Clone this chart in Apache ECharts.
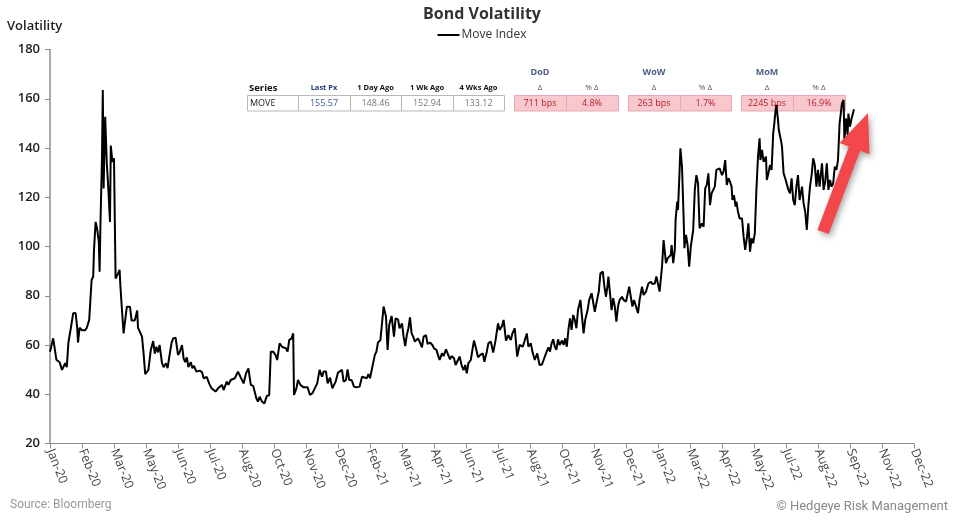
<!DOCTYPE html>
<html>
<head>
<meta charset="utf-8">
<title>Bond Volatility</title>
<script src="https://cdn.jsdelivr.net/npm/echarts@6/dist/echarts.min.js"></script>
<style>
  html, body { margin: 0; padding: 0; background: #fff; }
  #chart { width: 964px; height: 526px; }
</style>
</head>
<body>
<div id="chart"></div>
<script>
// x values are days after 2 Jan 2020 (axis ticks every 40 days from there)
var startDate = new Date(2020, 0, 2);
var monthNames = ["Jan","Feb","Mar","Apr","May","Jun","Jul","Aug","Sep","Oct","Nov","Dec"];

var moveDays = [
  0,4,6,8,12,15,19,21,23,26,29,32,34,35,37,40,42,44,46,49,52,54,55,57,59,61,62,63,65,66,67,69,71,73,75,76,78,80,81,82,
  85,87,88,90,92,94,96,100,102,106,109,110,115,117,119,123,126,129,131,133,135,137,140,142,145,147,149,152,154,157,
  160,162,165,167,169,171,173,176,178,180,183,187,190,192,196,199,202,204,207,210,
  212,215,217,219,221,223,226,228,231,235,238,242,245,248,251,254,258,260,262,265,268,271,274,276,279,282,284,287,290,292,
  295,297,299,302,304,305,308,310,313,317,319,322,325,328,331,334,337,340,342,345,347,350,353,357,360,365,367,370,372,374,
  377,380,383,387,390,392,396,398,400,402,406,408,410,413,
  417,420,422,424,427,430,432,435,437,440,442,444,446,448,450,452,454,456,458,460,462,465,467,470,472,475,478,480,483,485,
  487,490,492,495,497,500,502,505,507,510,512,515,517,519,521,523,526,528,530,533,535,538,541,543,546,548,551,554,557,560,
  562,565,567,570,573,576,578,581,584,587,591,593,596,598,601,603,606,609,612,615,617,620,623,625,
  627,629,631,633,635,637,640,642,644,646,648,650,652,654,656,658,660,663,665,667,669,672,674,677,679,681,683,686,688,691,
  693,695,697,698,700,702,704,706,708,710,712,715,717,720,722,724,726,728,730,732,735,737,740,742,745,748,751,753,756,758,
  760,762,765,767,770,772,774,776,777,779,781,782,784,785,787,788,790,792,793,795,797,799,801,804,806,808,810,812,815,817,
  819,821,823,825,
  827,829,831,833,835,837,840,842,844,846,848,850,852,853,855,857,858,860,862,863,865,867,869,871,873,875,877,879,881,883,
  885,887,888,890,892,895,896,898,900,902,904,905,907,908,910,911,912,914,915,917,919,921,923,925,927,929,931,933,935,937,
  940,942,944,946,948,950,952,954,956,958,960,962,965,967,969,971,973,975,977,979,981,983,985,987,990,992,993,995,997,998,
  1000,1002,1003,1005
];

var moveValues = [
  57.3,62.7,62,54,53,49.9,52.6,51,61,66.8,72.9,73,67,61,67,66,65.8,66,67,70.2,86.4,87.8,98.6,110,107,102,89.8,108,136.5,163.5,
  123.6,152.7,133.8,123,110,141,134.4,135.8,110.8,87,
  89,90.5,84,74,64.7,65.4,75.5,75.5,70,70,74,67,63.4,56.5,48.2,49.9,58,61.6,56.5,59.3,57,60,52.6,51,52.6,50.6,55,61,62.7,63,
  56,57,60,54.6,53,55,51,53,50.6,51.5,49.2,49.6,49,46.5,47,44.3,42.4,41.8,41.1,42.4,
  42.4,43.8,41.7,41.7,45.1,43.8,45.8,45.1,46.5,49.2,47.1,44.4,48.5,50.5,43.8,43.4,38.3,37,39,37,36.3,39.3,39.7,57.3,57.3,55.9,53.9,60.7,59.3,58.6,
  58.6,57.3,62,62.7,64.7,39.7,42.4,45.8,43.8,42.8,43.2,42.8,39.7,40.4,42.4,44.4,49.9,47.1,49.2,49.2,44.4,46.7,42.4,45.1,48.8,49.9,45.1,45.8,50.1,45.8,
  45.8,43.1,42.8,43.1,47.1,46.5,46.5,48.2,46.5,46,55.9,57.3,61,62,
  75.6,71.5,58,68.1,71.8,63.4,70.8,70.4,66.8,68.8,63.4,59.6,64,66.8,71.2,64.7,63.4,61.4,60.7,62.7,61.4,59,63.4,64,60.4,61,60,58.6,58,58.2,
  53.9,56.6,55.5,58.2,58,54.2,55.5,54.6,51.9,53.9,55.3,51.2,49.8,51.9,48.5,52.6,53.9,58,61.8,58,55,56,56.6,53.2,57.3,60.7,61.4,56.9,62,68.8,
  66.1,67.7,70.2,61.8,64,62,64.7,66.8,55.3,60,59.3,61.4,64.7,59.3,60.7,57.3,53.9,56.6,51.9,52.1,53.9,56.6,59,57.3,
  60.7,62.3,59.3,58,62.3,60,61.8,60,62.7,59.3,66.1,70.8,66.1,72.2,70.2,66.8,74.2,78.3,71.5,64.7,70.2,74.2,78.3,81,81.7,73.5,76.9,81.7,89.1,89.8,
  83.7,79.6,84.4,87.8,81,74.2,79,75.6,69.5,75.6,78.3,79.6,78.3,77.6,78.3,83.7,79.6,75.6,78.3,76.2,72.9,78.3,83.7,80.3,81.7,85,85.7,84.8,85,87.8,
  87.1,81.7,91.8,102.6,93.2,95.2,95.2,96.6,100.6,93.2,98.6,110.8,118.2,114.8,131.1,139.9,132.4,112.1,99.3,104.7,100.6,91.8,100,106.7,123,129,125.7,107.4,109.4,108,
  123.6,125,129.7,116.8,
  121.6,123,124.3,131.1,130.4,131.7,129,130.4,135.1,125,127.7,126.3,124.3,118.9,120.9,116.2,118.2,114.1,111.4,110.8,111.4,104,98.6,103.3,109.4,97.9,103.3,101.3,105.3,123,
  136.5,143.9,135.1,139.2,134.4,136.5,127,129.7,133.1,131.1,146,148.7,155.4,157.5,151.4,147.3,147.3,142.6,140.5,129.7,127.7,128,123,121.6,127.7,118.9,116.8,124.3,129,118.9,
  124.3,117.5,114.1,106.7,116.8,124.3,129,135.8,133.1,124.3,131.1,124.3,133.8,123,126.3,133.8,123,127,124.3,125.7,132.4,131.1,135.1,150,158.1,159.5,143.2,152,145.3,154,
  148.7,152,152.7,155.7
];

// summary table that sits over the chart
var groupHeaders = ["DoD", "WoW", "MoM"];
var tableHeaders = ["Series", "Last Px", "1 Day Ago", "1 Wk Ago", "4 Wks Ago", "Δ", "% Δ", "Δ", "% Δ", "Δ", "% Δ"];
var tableRow = ["MOVE", "155.57", "148.46", "152.94", "133.12", "711 bps", "4.8%", "263 bps", "1.7%", "2245 bps", "16.9%"];

function dayLabel(v) {
  var d = new Date(startDate.getTime() + v * 86400000);
  return monthNames[d.getMonth()] + "-" + String(d.getFullYear()).slice(2);
}

function buildTable() {
  var g = [];
  var cellLeft = [247, 298, 350, 401, 453, 514, 566, 628, 680, 741, 793];
  var cellW = [51, 52, 51, 52, 51, 52, 52, 52, 51, 52, 52];
  var rowTop = 95, rowH = 15.5;
  var font = "Open Sans, sans-serif";
  for (var i = 0; i < tableHeaders.length; i++) {
    var cx = cellLeft[i] + cellW[i] / 2;
    var pink = i >= 5;
    g.push({
      type: "rect", silent: true,
      shape: { x: cellLeft[i] + 0.5, y: rowTop + 0.5, width: cellW[i], height: rowH },
      style: { fill: pink ? "#f9c8ce" : "#fff", stroke: pink ? "#e9a9b1" : "#b8b8b8", lineWidth: 1 }
    });
    g.push({
      type: "text", silent: true,
      style: {
        text: tableHeaders[i],
        x: i === 0 ? 249 : cx, y: 88,
        align: i === 0 ? "left" : "center", verticalAlign: "middle",
        font: (i === 0 ? "bold 9.5px " : (i >= 5 ? "8px " : "bold 7.5px ")) + font,
        fill: i === 1 ? "#1f3a78" : (i >= 5 ? "#555" : "#111")
      }
    });
    g.push({
      type: "text", silent: true,
      style: {
        text: tableRow[i],
        x: i === 0 ? 250 : cx, y: rowTop + rowH / 2 + 1,
        align: i === 0 ? "left" : "center", verticalAlign: "middle",
        font: "9px " + font,
        fill: pink ? "#b3202e" : (i === 1 ? "#3b5b9a" : (i === 0 ? "#222" : "#777"))
      }
    });
  }
  for (var k = 0; k < groupHeaders.length; k++) {
    var col = 5 + k * 2;
    g.push({
      type: "text", silent: true,
      style: {
        text: groupHeaders[k],
        x: cellLeft[col] + cellW[col] / 2, y: 72,
        align: "center", verticalAlign: "middle",
        font: "bold 9px " + font, fill: "#4d5f86"
      }
    });
  }
  return g;
}

function buildArrow(tail, tip) {
  var dx = tip[0] - tail[0], dy = tip[1] - tail[1];
  var len = Math.sqrt(dx * dx + dy * dy);
  var ux = dx / len, uy = dy / len, px = -uy, py = ux;
  var shaft = 6, head = 16, headLen = 38;
  var bx = tip[0] - ux * headLen, by = tip[1] - uy * headLen;
  var pts = [
    [tail[0] + px * shaft, tail[1] + py * shaft],
    [bx + px * shaft, by + py * shaft],
    [bx + px * head, by + py * head],
    tip,
    [bx - px * head, by - py * head],
    [bx - px * shaft, by - py * shaft],
    [tail[0] - px * shaft, tail[1] - py * shaft]
  ];
  return {
    type: "polygon", silent: true, z: 100,
    shape: { points: pts },
    style: { fill: "#f2474b", shadowBlur: 6, shadowOffsetX: 2, shadowOffsetY: 3, shadowColor: "rgba(0,0,0,0.35)" }
  };
}

var seriesData = moveDays.map(function (d, i) { return [d, moveValues[i]]; });

var chart = echarts.init(document.getElementById("chart"));
var option = {
  backgroundColor: "#fff",
  animation: false,
  textStyle: { fontFamily: "Open Sans, sans-serif" },
  title: {
    text: "Bond Volatility",
    left: "center", top: 1,
    textStyle: { fontSize: 16, fontWeight: "bold", color: "#333", fontFamily: "Open Sans, sans-serif" }
  },
  legend: {
    top: 24, left: "center",
    data: ["Move Index"],
    icon: "rect",
    itemWidth: 22, itemHeight: 2, itemGap: 4,
    textStyle: { fontSize: 12, color: "#333", padding: [0, 0, 0, -3] }
  },
  grid: { left: 50, right: 50, top: 49.5, bottom: 82.5, containLabel: false },
  xAxis: {
    type: "value",
    min: 0, max: 1080, interval: 40,
    axisLine: { lineStyle: { color: "#8c8c8c", width: 1 } },
    axisTick: { show: true, length: 5, lineStyle: { color: "#8c8c8c" } },
    splitLine: { show: false },
    axisLabel: {
      rotate: -68, margin: 6, fontSize: 12.5, color: "#444",
      formatter: dayLabel, showMaxLabel: true, showMinLabel: true
    }
  },
  yAxis: {
    type: "value",
    min: 20, max: 180, interval: 20,
    axisLine: { show: true, lineStyle: { color: "#8c8c8c", width: 1.5 } },
    axisTick: { show: true, length: 5, lineStyle: { color: "#8c8c8c" } },
    splitLine: { show: false },
    axisLabel: { fontSize: 13, fontWeight: 600, color: "#222", margin: 10 }
  },
  series: [{
    name: "Move Index",
    type: "line",
    data: seriesData,
    showSymbol: false,
    symbol: "none",
    lineStyle: { color: "#000", width: 2 },
    itemStyle: { color: "#000" }
  }],
  graphic: [
    { type: "text", left: 7, top: 20, silent: true,
      style: { text: "Volatility", font: "600 13px Open Sans, sans-serif", fill: "#222" } },
    { type: "text", left: 10, top: 499, silent: true,
      style: { text: "Source: Bloomberg", font: "12px Roboto, sans-serif", fill: "#999" } },
    { type: "text", right: 16, top: 500, silent: true,
      style: { text: "© Hedgeye Risk Management", font: "13px Roboto, sans-serif", fill: "#888" } },
    buildArrow([823, 232], [868, 113])
  ].concat(buildTable())
};
chart.setOption(option);
</script>
</body>
</html>
